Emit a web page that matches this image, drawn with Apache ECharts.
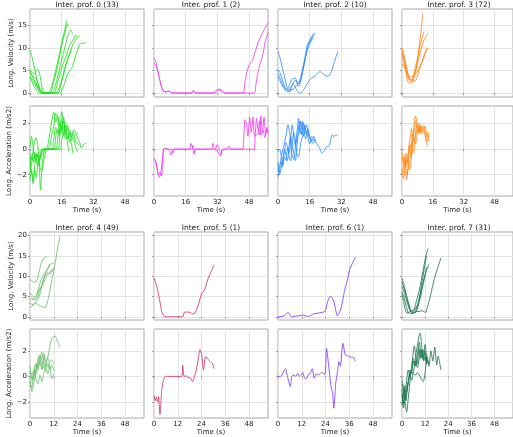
<!DOCTYPE html>
<html>
<head>
<meta charset="utf-8">
<script src="https://cdn.jsdelivr.net/npm/echarts@6/dist/echarts.min.js"></script>
<style>
  html, body { margin: 0; padding: 0; background: #fff; }
  #chart { width: 513px; height: 437px; }
</style>
</head>
<body>
<div id="chart"></div>
<script>
// profile labels and counts
var profileIds = [0, 1, 2, 3, 4, 5, 6, 7];
var profileCounts = [33, 2, 10, 72, 49, 1, 1, 31];
var profileColors = ['rgb(30,225,30)', 'rgb(240,60,240)', 'rgb(45,140,255)', 'rgb(255,135,25)',
                     'rgb(110,190,110)', 'rgb(210,50,100)', 'rgb(125,60,250)', 'rgb(30,120,80)'];

var xTicksTop = [0, 16, 32, 48];
var xTicksBottom = [0, 12, 24, 36, 48];
var velTicksTop = [0, 5, 10, 15];
var velTicksBottom = [0, 5, 10, 15, 20];
var accTicks = [-2, 0, 2];

// [time (s), value] per trajectory
var velProf0 = [
  [[0,9.5],[1,8],[2,6],[3,4],[4,2.2],[5,0.8],[6,0.1],[9,0],[11,1.5],[13,5],[15,9],[17,13],[18.7,16.2]],
  [[0,5.2],[1,4.6],[2,4.2],[3,4.8],[4,5.2],[5,4],[6,1.5],[7,0.3],[8,0],[10,0],[12,2.5],[14,6],[16,10.5],[18,14],[19,15.3],[19.5,15]],
  [[0,4.5],[1,3.8],[2,3],[3,2.2],[4,1.5],[5,0.5],[6,0],[11,0],[13,2],[15,5.5],[17,9],[19,12.5],[20.5,14],[21.5,13.2]],
  [[0,3.8],[1,3.2],[2,2.8],[3,2],[4,1],[5,0.3],[6,0],[12,0],[14,2.5],[16,5.5],[18,8],[20,10.5],[22,12],[23,12.8],[24,12.5]],
  [[0,3.2],[1.5,2.6],[3,1.5],[4.5,0.6],[6,0.1],[8,0],[13,0],[15,1.5],[17,4.5],[19,7.5],[21,10],[22.5,11.5],[24,12.3],[25,12.8]],
  [[0,3.5],[1,2.5],[2,1.5],[3,0.8],[4,0.2],[5,0],[15,0],[16.5,1],[17.5,2.2],[19,4.2],[20.5,5.2],[21.5,5.8],[22.5,7.5],[24,9.5],[25,10.8],[26,11],[27,11],[28.4,11.3]],
  [[0,5],[1,4],[2,3.6],[3,3.2],[4,2],[5,1],[6,0.5],[7,0.2],[8,0],[14,0],[16,2.5],[18,6],[20,8.5],[21,9.5]]
];
var accProf0 = [
  [[0,-0.6],[0.8,-1.8],[1.6,-2.5],[2.4,-1.6],[3.2,-2.2],[4,-1.2],[5,-0.7],[6,-0.2],[7,0],[8,0],[9,0.3],[10,1.2],[11,2.2],[12,2.9],[13,2.1],[14,2.6],[15,1.8],[16,2.2],[17,1.6],[18,1.9],[18.7,1.5]],
  [[0,-0.3],[1,-0.8],[2,0.4],[3,0.9],[4,0.2],[5,-1.4],[6,-1.7],[7,-0.8],[8,-0.2],[9,0],[10,0.3],[11,1.1],[12,1.8],[13,2.8],[14,2.4],[15,1.3],[16,2.9],[17,2.0],[18,1.2],[19,0.5],[19.5,-0.2]],
  [[0,0.1],[0.7,1.0],[1.5,0.3],[2.5,-0.7],[3.5,-0.4],[4.5,-0.8],[5.3,-3.2],[6,-1.5],[7,-0.3],[8,0],[11,0],[12,0.8],[13,1.7],[14,1.2],[15,2.0],[16,1.6],[17,2.5],[18,1.4],[19,1.9],[20,0.8],[21,0.4],[21.5,-0.3]],
  [[0,-1.4],[1,-0.6],[2,-1.0],[3,-0.3],[4,-1.1],[5,-0.5],[6,-0.2],[7,0],[12,0],[13,1.0],[14,1.5],[15,1.1],[16,1.8],[17,1.0],[18,1.5],[19,0.8],[20,1.3],[21,0.7],[22,0.9],[23,0.2],[24,-0.2]],
  [[0,-2.4],[0.8,-1.6],[1.6,-2.7],[2.5,-1.2],[3.5,-0.4],[4.5,-0.9],[5.5,-0.3],[6.5,0],[13,0],[14,0.9],[15,1.4],[16,1.7],[17,1.2],[18,1.8],[19,1.4],[20,1.5],[21,1.0],[22,1.3],[23,0.7],[24,0.4],[25,0.3]],
  [[0,-1.9],[1,-1.0],[2,-0.6],[3,-0.9],[4,-0.4],[5,-0.2],[6,0],[15,0],[16,0.7],[17,1.2],[18,0.8],[19,1.0],[20,0.5],[21,0.7],[22,1.5],[23,1.4],[24,0.9],[25,0.6],[25.8,0.1],[26.5,0.2],[27.2,0.4],[28.4,0.5]],
  [[0,-1.0],[1,-0.5],[2,-0.2],[3,-0.9],[4,-1.3],[5,-0.8],[6,-0.4],[7,-0.2],[8,0],[14,0],[15,1.0],[16,1.8],[17,2.2],[18,1.4],[19,1.0],[20,1.3],[21,0.9]]
];

var velProf1 = [
  [[0,7.8],[0.7,7.2],[1.5,5.8],[2.5,3.8],[3.5,1.8],[4.5,0.5],[5.5,0.3],[6.5,0.35],[7.5,0.4],[8.5,0.2],[9.5,0],[19,0],[20,0.6],[21,0],[30,0],[31.5,0.6],[33,0.9],[34.5,0.5],[36,0],[44.8,0],[46,2.5],[47,4.8],[48.2,6.3],[49.5,7],[51,9],[52.9,11.5],[55,13.5],[57.2,15.3],[57.6,15.6]],
  [[0,6.6],[1,6.0],[2,4.5],[3,2.8],[4,1.2],[5,0.3],[6,0.2],[7,0.4],[8,0.3],[9,0],[19,0],[20,0.5],[21,0],[31,0],[32.5,0.7],[34,0.5],[35.5,0],[50.5,0],[51.5,2],[52.5,4.5],[53.5,6.3],[55,8.5],[56,11],[57.6,13.5]]
];
var accProf1 = [
  [[0,-0.7],[0.7,-0.9],[1.5,-1.5],[2.3,-2.0],[3.1,-1.8],[3.8,-2.1],[4.3,-1.2],[4.8,0],[5.5,0.05],[7,0],[8,-0.2],[8.6,-0.45],[9.2,-0.1],[10,0],[18,0],[18.6,0.45],[19.5,0.1],[20.3,-0.4],[21,0],[29,0],[29.8,0.45],[30.5,0.1],[31.5,-0.1],[32.5,-0.3],[33.5,-0.55],[34.5,-0.1],[36,0],[38,0.2],[39,0],[44.5,0],[45.3,0.8],[46,2.3],[46.8,1.9],[47.5,1.0],[48.3,2.5],[49.2,1.3],[50,2.5],[50.8,1.0],[51.5,1.1],[52.5,1.2],[53.3,2.2],[54,1.1],[55,1.5],[56,0.9],[57,1.6],[57.6,1.2]],
  [[0,-0.8],[1,-1.0],[1.8,-1.7],[2.6,-2.2],[3.4,-1.9],[4.2,-0.8],[5,0],[6,0.05],[7,0],[9,0],[9.7,-0.3],[10.5,0],[19,0],[19.8,0.3],[20.6,-0.2],[21.5,0],[31,0],[31.8,0.35],[32.8,0.1],[33.8,-0.4],[34.6,0],[50,0],[50.6,-0.1],[51.2,1.2],[51.8,2.4],[52.5,1.6],[53.3,1.1],[54,2.6],[54.8,1.3],[55.6,2.5],[56.4,1.2],[57,1.7],[57.6,1.3]]
];

var velProf2 = [
  [[0,9.2],[1,7.8],[2,6],[3,4.1],[4,2.2],[4.5,1.3],[5.5,0.7],[7,0.7],[8,1.0],[9,1.5],[10.4,2.2],[11.5,3.5],[12.1,4.8],[13.5,7.5],[14.6,10.3],[16,11.7],[17.1,12.6],[18.5,13.3]],
  [[0,5.2],[1,4.5],[2,3.2],[3,1.8],[4.5,0.7],[5.5,1.5],[7,3.0],[8.7,3.3],[9.5,2.6],[10.4,1.5],[11.2,2.2],[12.5,4.8],[14,8],[15.5,10.8],[17,12.2],[18.8,13.3]],
  [[0,4.4],[1.5,2.8],[3,1.3],[4.5,0.5],[5.5,0.4],[7,1.8],[8,1.9],[9,1.0],[10,0.3],[11.3,0],[12.5,0.4],[14,1.5],[15.5,2.6],[17,3.3],[18.8,3.8],[20,4.3],[21.3,4.8],[22.3,4.4],[23.5,4.0],[24.7,3.7],[26,3.9],[27,4.8],[28,6.3],[29.2,7.8],[30.2,9.2]],
  [[0,3.6],[1.5,2.2],[3,1.0],[4.5,0.4],[6,0.3],[7,1.5],[8,2.5],[9,2.8],[10,2.0],[11,2.4],[12.5,5],[14,8.2],[15.5,10.5],[17,11.8],[18,12.6]]
];
var accProf2 = [
  [[0,-2.2],[0.7,-1.8],[1.5,-1.0],[2.3,-1.4],[3.1,-0.6],[4,-0.9],[4.8,0.1],[5.6,-0.3],[6.4,0.8],[7.2,1.9],[8,0.9],[8.8,0.3],[9.6,1.4],[10.4,2.4],[11.2,1.2],[12,2.0],[12.8,1.0],[13.6,1.9],[14.4,1.2],[15.2,1.6],[16,0.8],[17,1.0],[18.5,0.6]],
  [[0,-1.0],[0.8,-2.0],[1.6,-1.5],[2.4,-0.8],[3.2,0],[4,-0.4],[4.8,-0.9],[5.6,0.3],[6.4,1.0],[7.2,0.2],[8,-0.3],[8.8,-0.9],[9.6,0.2],[10.4,1.7],[11.2,2.2],[12,1.1],[12.8,2.1],[13.6,1.4],[14.4,1.9],[15.2,1.3],[16,1.0],[17,0.6],[18,0.8],[18.8,0.5]],
  [[0,-0.2],[0.8,0],[1.6,-0.5],[2.4,-1.2],[3.2,-0.4],[4,0.5],[4.8,0.2],[5.6,-0.6],[6.4,-0.9],[7.2,0.3],[8,1.3],[8.8,0.7],[9.6,-0.4],[10.4,-0.6],[11.2,0.2],[12,0.8],[13,1.1],[14,1.4],[15,1.0],[16,0.4],[17,0.8],[18,1.0],[19,0.6],[20,0.3],[21,0.1],[22.2,-0.3],[23.5,-0.1],[24.7,0.2],[25.5,0.2],[26.5,0.6],[27.2,1.1],[28.2,1.0],[29.2,1.1],[30.2,1.1]],
  [[0,-1.8],[1,-1.2],[2,-0.3],[3,0.3],[4,1.0],[5,1.9],[6,1.2],[7,-0.4],[8,-0.8],[9,0.5],[10,1.0],[11,1.9],[12,2.2],[13,1.5],[14,0.8],[15,1.4],[16,0.9],[17,0.6],[18,0.4]]
];

var velProf3 = [
  [[0,10],[1,8.5],[2.3,5.9],[3,4.5],[4,3],[5,2.9],[6,4],[7,5.8],[8.2,8.1],[9,10.5],[9.8,13.5],[10.3,15.5],[10.7,17.7]],
  [[0,8.9],[1,7.8],[2,6.2],[3,4.3],[4.8,2.6],[6.5,3.7],[7.5,5.8],[9,9.6],[10,11.5],[11.5,13.7]],
  [[0,9.6],[1,7.5],[2.3,4],[3.5,2.2],[5,2.4],[6.5,4.0],[8,6.5],[9.8,9.6],[11.5,11.8],[13.5,13.3]],
  [[0,8.5],[1.5,5.9],[3.2,3.3],[5,2.6],[7.3,2.9],[9,5.5],[10.7,7.5],[12,9],[13.2,10]],
  [[0,6.7],[2,4.9],[4,3.6],[6,3.8],[8.2,4.9],[10,6.3],[11.5,8],[12.5,9.5],[14,10]]
];
var accProf3 = [
  [[0,-1.5],[0.7,-2.3],[1.4,-1.6],[2.1,-0.8],[2.8,-1.1],[3.5,0.2],[4.2,0.8],[4.9,1.6],[5.6,0.9],[6.3,2.0],[7,2.6],[7.7,2.2],[8.4,1.3],[9.1,2.0],[9.8,1.6],[10.7,1.2]],
  [[0,-0.7],[0.8,-1.0],[1.6,-1.8],[2.4,-2.4],[3.2,-1.2],[4,0.3],[4.8,-0.5],[5.6,0.8],[6.4,1.5],[7.2,2.2],[8,1.6],[8.8,1.9],[9.6,1.4],[10.4,1.8],[11.5,1.3]],
  [[0,-0.2],[0.8,-1.2],[1.6,-0.6],[2.4,-2.0],[3.2,-1.5],[4,-0.9],[4.8,0.2],[5.6,1.2],[6.4,0.6],[7.2,1.5],[8,1.9],[9,1.4],[10,1.5],[11,1.8],[12,1.3],[12.8,0.6],[13.5,0.8]],
  [[0,-1.9],[1,-1.2],[2,-0.3],[3,-1.0],[4,-1.6],[5,-0.5],[6,0.8],[7,0.4],[8,1.3],[9,1.7],[10,1.2],[11,1.5],[12,1.1],[13.2,0.2]],
  [[0,-0.9],[1,-0.6],[2,-1.4],[3,-0.5],[4,0.1],[5,0.5],[6,-0.3],[7,0.9],[8,1.6],[9,1.2],[10,1.7],[11,1.5],[12,1.8],[13,0.9],[13.5,1.3],[14,0.6]]
];

var velProf4 = [
  [[0,9.3],[1,8.8],[2.5,8.4],[3.5,9],[4.5,10.8],[5.7,13.2],[6.6,14.2],[7.5,14.6],[8.3,14.8]],
  [[0,6.0],[1,5.3],[2,4.8],[3,5.0],[4,6.5],[5,8.2],[6,9.5],[7,10.5],[8,11.2],[9,11.8],[10,12.8],[11,13.2],[12,13.2]],
  [[0,5.2],[1,4.7],[2,4.3],[3,4.3],[4,5],[5,6.5],[6,8],[7,9.5],[8,10.5],[9,10.8],[10,10.5],[11,11.5],[12,11.5]],
  [[0,3.5],[1,3.0],[2,3.2],[3,3.8],[4,4.5],[5,5.5],[6,7.5],[7,9.5],[8,10.8],[9,12.0],[10,13.0]],
  [[0,2.2],[1,2.6],[2,3.0],[3,3.3],[4,3.0],[5,2.7],[6,2.5],[7,2.3],[8,2.5],[9,4],[10,6.2],[11,9],[12,11.2],[13,14],[14,17],[15.2,20]],
  [[0,4.5],[1,4.2],[2,4.5],[3,5.0],[4,6.0],[5,7.0],[6,7.5],[7,8.5],[8,9.8],[9,10.5],[10,11],[11,11.2],[12,12]]
];
var accProf4 = [
  [[0,-0.4],[0.8,-0.9],[1.6,-0.2],[2.4,0.5],[3.2,0.2],[4,1.2],[4.8,1.6],[5.6,1.0],[6.4,0.6],[7.2,0.8],[8.3,0.3]],
  [[0,-0.6],[1,-0.4],[2,-0.1],[3,0.6],[4,1.3],[5,1.7],[6,1.2],[7,0.9],[8,0.7],[9,1.0],[10,0.6],[11,0.9],[12,0.4]],
  [[0,-0.3],[1,-1.2],[2,-0.5],[3,0.3],[4,0.9],[5,1.4],[6,1.9],[7,1.1],[8,0.6],[9,0.2],[10,0.8],[11,-0.2],[12,0.2]],
  [[0,0.4],[1,-0.3],[2,0.5],[3,1.0],[4,0.7],[5,1.3],[6,1.5],[7,1.8],[8,1.2],[9,1.4],[10,0.9]],
  [[0,0.3],[1,0.2],[2,0.5],[3,-0.2],[4,-0.6],[5,0.1],[6,-0.4],[7,0.3],[8,0.9],[9,1.5],[10,2.3],[11,3.0],[12,3.1],[12.6,3.2],[13.5,2.9],[14.3,2.6],[15.2,2.3]],
  [[0,0.8],[1,-0.2],[2,0.3],[3,0.9],[4,0.5],[5,1.2],[6,0.5],[7,1.6],[8,1.0],[9,0.7],[10,1.1],[11,1.3],[12,1.0]]
];

var velProf5 = [
  [[0,9.5],[1,8.2],[2.2,5.8],[3.2,3.2],[3.9,1.3],[5,0.2],[6,0],[14.5,0],[15.3,1.1],[16.5,1.15],[18.2,1.1],[19.5,0.7],[20.7,0.9],[21.7,2.0],[22.7,3.4],[24.1,5.8],[25.3,6.4],[26.3,7.8],[27.4,9.5],[29,11.3],[30.3,12.8]]
];
var accProf5 = [
  [[0,-1.5],[0.6,-1.9],[1.2,-1.6],[1.8,-2.0],[2.3,-1.6],[3,-3.0],[3.9,-1.1],[4.8,-0.3],[5.9,0],[14,0],[14.5,0.9],[15.2,0],[16.2,0.05],[17.2,-0.1],[18.2,-0.1],[19.5,-0.4],[20.5,0],[21.5,0.6],[22.4,1.4],[23.2,2.1],[24.1,1.7],[25,0.5],[26.1,1.55],[27.5,1.3],[28.6,1.15],[29.6,1.0],[30.3,0.6]]
];

var velProf6 = [
  [[0,0],[2.5,0.1],[4,0.6],[5,1.1],[6,0.5],[6.7,0],[10.3,0.25],[12.8,0.4],[15.3,0.05],[17,0.5],[17.8,0.7],[20.3,0.9],[23.7,1.3],[24.5,2.5],[25,3.6],[26,4.8],[26.7,5.0],[27.5,4.6],[28.3,3.6],[29.2,1.5],[30,0.25],[31,1.0],[32,2.4],[33,4.8],[33.7,6.6],[35,9],[36.2,11.6],[37.8,13.4],[39.2,14.7]]
];
var accProf6 = [
  [[0,0],[1.5,0],[2.5,0.25],[3.7,0.6],[4.5,0.2],[5.4,-0.4],[6.2,-0.8],[7,0],[8,0.1],[9,0],[10,0.25],[10.8,0],[11.7,0.1],[12.5,0.3],[13.3,-0.1],[14.2,-0.2],[15.2,0.1],[16.2,0.2],[17.3,0.6],[18.3,-0.15],[19.3,0.2],[20.5,0.1],[22,0.3],[23.7,0.15],[24.5,2.2],[25.5,1.0],[26.8,-0.8],[27.6,-1.3],[28.2,-2.5],[29.2,-0.5],[30,0.3],[30.8,1.15],[31.5,0.8],[32.8,2.6],[34,1.7],[35.5,1.6],[37,1.5],[38,1.5],[39.2,1.2]]
];

var velProf7 = [
  [[0,9.5],[1,8.0],[2.3,5.3],[3.5,3.0],[4.8,1.1],[6,1.4],[7.3,3.5],[9,6.6],[10.2,9.5],[11.5,12.9],[12.5,15.2],[13.5,16.8]],
  [[0,8.7],[1.5,6.2],[3.2,3.6],[4.5,1.6],[5.7,0.8],[7,1.5],[8.2,2.8],[9.5,6.0],[10.7,9.5],[11.8,12.5],[12.7,15]],
  [[0,7.5],[1.5,5.5],[3,3.0],[4,1.8],[5,1.3],[6,1.0],[7.3,1.1],[8.3,2.5],[9.8,5.3],[11,8.0],[12.3,10.8],[14,12.9]],
  [[0,6.2],[1,4.8],[2,3.0],[3.2,1.1],[4.5,0.8],[6,1.0],[7.5,1.3],[9,1.3],[10.5,1.5],[11.5,1.2],[12.3,1.1],[13,2.0],[13.8,3.5],[14.8,5.3],[16,7.8],[17.3,10.3],[18.7,12.3],[20.2,14.5]],
  [[0,5.5],[1,3.5],[1.8,1.5],[2.6,0.9],[4,1.2],[5.5,1.5],[7,2.0],[8.5,3.5],[9.5,5.5],[10.8,8.3],[12,10.5],[13,12.4]]
];
var accProf7 = [
  [[0,-1.4],[0.7,-2.2],[1.4,-1.0],[2.1,-1.9],[2.8,-0.9],[3.5,-0.3],[4.2,0.5],[5,0.2],[5.8,1.2],[6.6,0.8],[7.4,1.9],[8.2,2.6],[9,3.3],[9.5,3.4],[10.2,2.4],[11,1.5],[11.8,2.0],[12.6,1.4],[13.5,1.0]],
  [[0,-0.6],[0.8,-1.2],[1.6,-2.0],[2.4,-2.8],[3.2,-1.8],[4,-0.6],[4.8,0.5],[5.6,1.6],[6.4,2.4],[7.2,1.5],[8,1.0],[8.8,2.2],[9.6,1.4],[10.4,2.0],[11.2,1.2],[12,1.5],[12.7,0.9]],
  [[0,-2.3],[0.8,-1.5],[1.6,-0.7],[2.4,-1.2],[3.2,-0.5],[4,0.2],[5,-0.3],[6,0.4],[7,1.2],[8,0.7],[9,1.5],[10,2.1],[11,1.3],[12,2.5],[12.8,1.5],[13.5,1.2],[14,1.0]],
  [[0,-0.3],[0.8,-0.9],[1.6,-1.8],[2.4,-1.2],[3.2,-0.4],[4,0.1],[5,0.3],[6,0.2],[7,0.1],[8,0.3],[9,0.1],[10,-0.2],[11,-0.4],[12,0.3],[13,1.6],[14,0.8],[15,2.0],[16,1.2],[17,2.3],[18,0.9],[18.8,1.6],[19.5,1.1],[20.2,0.5]],
  [[0,-1.0],[0.8,-2.5],[1.6,-1.6],[2.4,-0.4],[3.2,0.5],[4,0.1],[5,0.6],[6,1.4],[7,0.8],[8,1.7],[9,2.7],[10,1.5],[11,2.1],[12,1.4],[13,1.0]]
];

var velAll = [velProf0, velProf1, velProf2, velProf3, velProf4, velProf5, velProf6, velProf7];
var accAll = [accProf0, accProf1, accProf2, accProf3, accProf4, accProf5, accProf6, accProf7];

var chart = echarts.init(document.getElementById('chart'), null, { renderer: 'canvas' });

var FONT = 'DejaVu Sans';
var colLeft = [30, 154, 278, 402];
var colW = 114;
// [top, height] for vel/acc rows of the two blocks
var rowBox = [[[9, 88], [106, 90]], [[232, 88], [329, 89]]];
var velRange = [[-0.89, 18.64], [-0.8, 20.9]];
var accRange = [[-3.66, 3.37], [-3.27, 3.72]];
var titleTop = [1, 224];

function fmt(v) {
  return v < 0 ? '\u2212' + Math.abs(v) : String(v);
}

var grids = [], xAxes = [], yAxes = [], series = [], titles = [];

for (var p = 0; p < 8; p++) {
  var b = Math.floor(p / 4), c = p % 4;
  titles.push({
    text: 'Inter. prof. ' + profileIds[p] + ' (' + profileCounts[p] + ')',
    left: colLeft[c] + colW / 2,
    top: titleTop[b],
    textAlign: 'center',
    padding: 0,
    textStyle: { fontFamily: FONT, fontSize: 7.5, fontWeight: 'normal', color: '#222' }
  });
  for (var r = 0; r < 2; r++) {
    var gi = grids.length;
    var box = rowBox[b][r];
    grids.push({
      left: colLeft[c], top: box[0], width: colW, height: box[1],
      show: true, borderColor: '#a8a8a8', borderWidth: 1, backgroundColor: '#fff'
    });
    var xt = b === 0 ? xTicksTop : xTicksBottom;
    xAxes.push({
      type: 'value', gridIndex: gi, min: 0, max: 57.6,
      name: r === 1 ? 'Time (s)' : '',
      nameLocation: 'middle', nameGap: 10,
      nameTextStyle: { fontFamily: FONT, fontSize: 7, color: '#222' },
      axisLine: { show: false },
      axisTick: { show: true, length: 2, lineStyle: { color: '#999' }, customValues: xt },
      axisLabel: { show: r === 1, margin: 3, fontFamily: FONT, fontSize: 7, color: '#222',
                   customValues: xt, formatter: fmt },
      splitLine: { show: true, lineStyle: { color: '#e3e3e3', width: 1 } }
    });
    var yr = r === 0 ? velRange[b] : accRange[b];
    var yt = r === 0 ? (b === 0 ? velTicksTop : velTicksBottom) : accTicks;
    yAxes.push({
      type: 'value', gridIndex: gi, min: yr[0], max: yr[1],
      name: c === 0 ? (r === 0 ? 'Long. Velocity (m/s)' : 'Long. Acceleration (m/s2)') : '',
      nameLocation: 'middle', nameGap: 12,
      nameTextStyle: { fontFamily: FONT, fontSize: 7, color: '#222' },
      axisLine: { show: false },
      axisTick: { show: true, length: 2, lineStyle: { color: '#999' }, customValues: yt },
      axisLabel: { show: c === 0, margin: 3, fontFamily: FONT, fontSize: 7, color: '#222',
                   customValues: yt, formatter: fmt },
      splitLine: { show: true, lineStyle: { color: '#e3e3e3', width: 1 } }
    });
    var lines = r === 0 ? velAll[p] : accAll[p];
    for (var k = 0; k < lines.length; k++) {
      series.push({
        type: 'line', xAxisIndex: gi, yAxisIndex: gi,
        data: lines[k], showSymbol: false, smooth: 0.25, silent: true,
        lineStyle: { color: profileColors[p], width: 1, opacity: 0.85 }
      });
    }
  }
}

var option = {
  animation: false,
  backgroundColor: '#fff',
  title: titles,
  grid: grids,
  xAxis: xAxes,
  yAxis: yAxes,
  series: series
};
chart.setOption(option);
</script>
</body>
</html>
